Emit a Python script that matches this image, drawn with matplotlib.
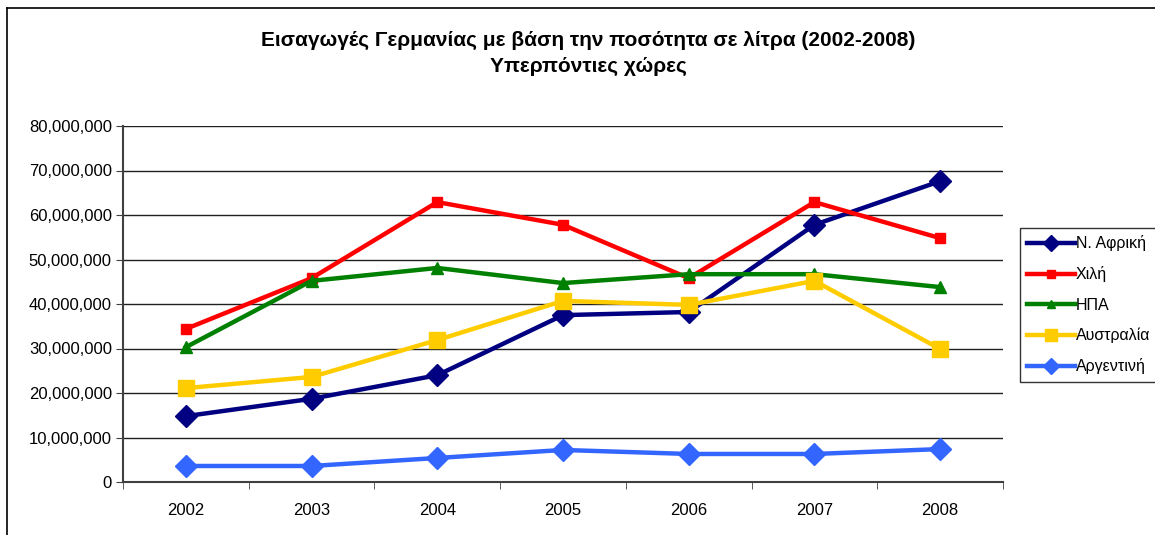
import numpy as np
import matplotlib
matplotlib.use('Agg')
from matplotlib import pyplot as plt
from matplotlib.ticker import FuncFormatter, MultipleLocator
from matplotlib.lines import Line2D

plt.rcParams['font.family'] = ['Liberation Sans', 'DejaVu Sans']

years = ['2002', '2003', '2004', '2005', '2006', '2007', '2008']

n_afriki = [14.8e6, 18.7e6, 24.0e6, 37.5e6, 38.2e6, 57.8e6, 67.6e6]
xili = [34.4e6, 45.8e6, 62.9e6, 57.8e6, 45.8e6, 62.9e6, 54.8e6]
ipa = [30.3e6, 45.2e6, 48.1e6, 44.7e6, 46.7e6, 46.7e6, 43.8e6]
afstralia = [21.1e6, 23.6e6, 31.9e6, 40.7e6, 39.8e6, 45.2e6, 29.9e6]
argentini = [3.6e6, 3.6e6, 5.4e6, 7.2e6, 6.3e6, 6.3e6, 7.4e6]

series = [
    ('Ν. Αφρική', n_afriki, '#000080', 'D', 11),
    ('Χιλή', xili, '#FF0000', 's', 7),
    ('ΗΠΑ', ipa, '#008000', '^', 8),
    ('Αυστραλία', afstralia, '#FFCC00', 's', 11),
    ('Αργεντινή', argentini, '#3366FF', 'D', 11),
]

W, H = 1155, 535
fig = plt.figure(figsize=(W / 100, H / 100), dpi=100)
ax = fig.add_axes([123 / W, 1 - 482 / H, (1003 - 123) / W, (482 - 126) / H])

x = np.arange(len(years))
for name, vals, col, mk, ms in series:
    ax.plot(x, vals, color=col, lw=3.2, marker=mk, markersize=ms,
            markeredgecolor=col, label=name, clip_on=False, zorder=3)

ax.set_xlim(-0.5, len(years) - 0.5)
ax.set_ylim(0, 80e6)
ax.yaxis.set_major_locator(MultipleLocator(10e6))
ax.yaxis.set_major_formatter(FuncFormatter(lambda v, p: f'{int(v):,}'))
ax.set_xticks(x)
ax.set_xticklabels(years)
ax.set_xticks(np.arange(-0.5, len(years)), minor=True)
ax.tick_params(axis='x', which='major', length=0, pad=15, labelsize=12)
ax.tick_params(axis='x', which='minor', length=5, color='#404040')
ax.tick_params(axis='y', length=5, color='#404040', labelsize=12, pad=3)
ax.grid(axis='y', color='#202020', lw=1)
ax.set_axisbelow(True)
for s in ['top', 'right']:
    ax.spines[s].set_visible(False)
for s in ['left', 'bottom']:
    ax.spines[s].set_color('#404040')
    ax.spines[s].set_linewidth(1.5)

fig.text(588 / W, 1 - 40 / H, 'Εισαγωγές Γερμανίας με βάση την ποσότητα σε λίτρα (2002-2008)',
         ha='center', va='center', fontsize=15, fontweight='bold')
fig.text(588 / W, 1 - 66 / H, 'Υπερπόντιες χώρες',
         ha='center', va='center', fontsize=15, fontweight='bold')

# outer chart frame
fig.add_artist(Line2D([7 / W, 7 / W], [0, 1 - 8 / H], color='black', lw=1.2))
fig.add_artist(Line2D([7 / W, 1], [1 - 8 / H, 1 - 8 / H], color='black', lw=1.2))

handles = [Line2D([], [], color=c, lw=3.2, marker=m, markersize=ms * 0.75, markeredgecolor=c)
           for _, _, c, m, ms in series]
leg = fig.legend(handles, [s[0] for s in series], loc='upper left',
                 bbox_to_anchor=(1020 / W, 1 - 228 / H), fontsize=11.5,
                 frameon=True, fancybox=False, handlelength=3.0, handletextpad=0.05,
                 labelspacing=0.95, borderpad=0.45, borderaxespad=0)
leg.get_frame().set_edgecolor('black')
leg.get_frame().set_linewidth(1)

fig.savefig('out.png', dpi=100)
